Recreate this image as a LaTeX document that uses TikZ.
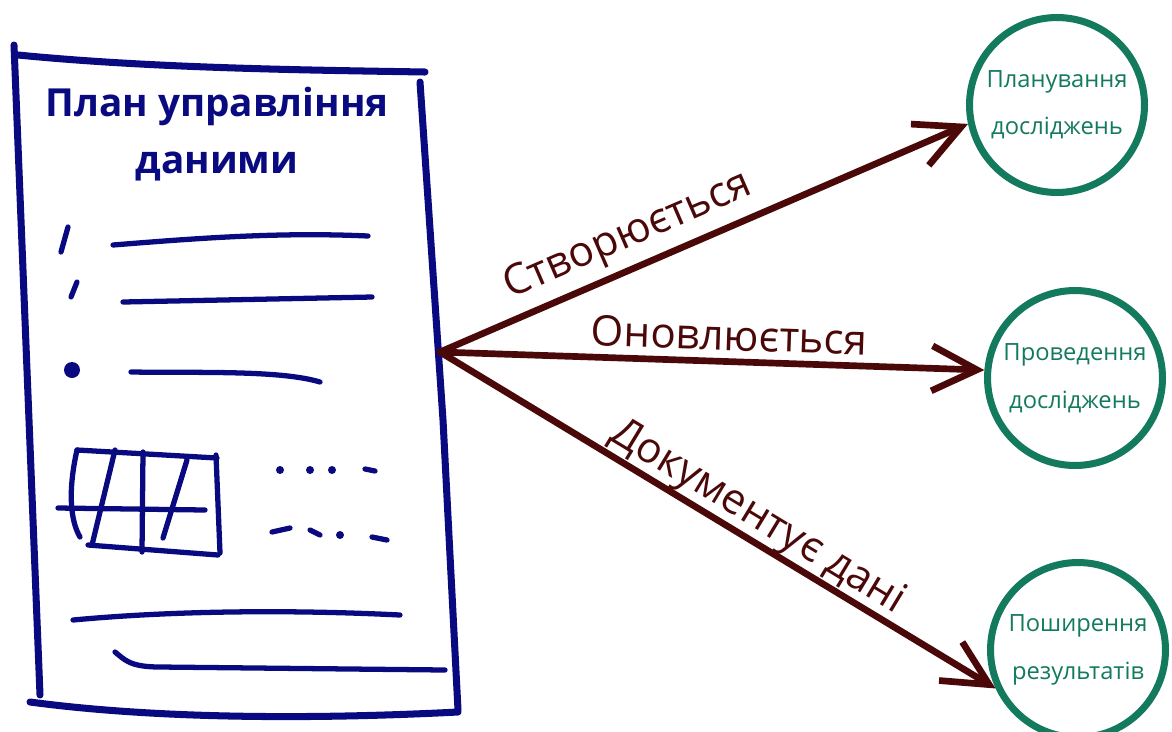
\documentclass[tikz,border=0pt]{standalone}
\usepackage{fontspec}
\setmainfont{Open Sans}
\usetikzlibrary{arrows.meta,positioning,calc}
\definecolor{Ink}{HTML}{0A0A80}
\definecolor{Maroon}{HTML}{4A0808}
\definecolor{Green}{HTML}{137A5E}

\begin{document}
\begin{tikzpicture}[x=0.02cm,y=-0.02cm,line cap=round,line join=round,
  pen/.style={Ink,line width=4pt},
  thin pen/.style={Ink,line width=3pt},
  stage/.style={circle,draw=Green,line width=4pt,minimum size=3.5cm,text=Green,align=center,font=\fontsize{13.5}{27}\selectfont},
  flow/.style={Maroon,line width=3.8pt,-{Straight Barb[length=9mm,width=9mm]}},
  flowlabel/.style={Maroon,sloped,font=\fontsize{24}{28}\selectfont}]
  \useasboundingbox (0,0) rectangle (1172,731);
  % plan sheet
  \draw[pen] (14,45) -- (40,695);
  \draw[pen] (18,55) .. controls (150,68) and (300,70) .. (425,72);
  \draw[pen] (420,82) -- (443,420) -- (458,710);
  \draw[pen] (30,702) .. controls (150,718) and (300,720) .. (458,712);
  \node[Ink,align=center,font=\bfseries\fontsize{22}{32}\selectfont] (title) at (217,134) {План управління\\даними};
  % list items
  \draw[thin pen] (68,227) -- (61,252);
  \draw[thin pen] (113,245) .. controls (200,238) and (280,232) .. (368,236);
  \draw[thin pen] (77,282) -- (71,297);
  \draw[thin pen] (123,302) -- (372,297);
  \fill[Ink] (72,370) circle (8);
  \draw[thin pen] (131,372) .. controls (200,373) and (280,370) .. (320,382);
  % table
  \draw[thin pen] (77,450) -- (217,458);
  \draw[thin pen] (77,450) .. controls (68,490) and (70,520) .. (80,537);
  \draw[thin pen] (88,545) -- (218,555);
  \draw[thin pen] (216,455) -- (220,553);
  \draw[thin pen] (58,508) -- (205,510);
  \draw[thin pen] (115,450) -- (92,545);
  \draw[thin pen] (143,452) -- (142,552);
  \draw[thin pen] (187,460) -- (163,538);
  % dotted lines
  \foreach \x in {280,310,332} \fill[Ink] (\x,470) circle (4);
  \draw[thin pen] (365,469) -- (375,471);
  \draw[thin pen] (272,532) -- (290,528);
  \draw[thin pen] (310,530) -- (320,535);
  \fill[Ink] (340,535) circle (4);
  \draw[thin pen] (372,537) -- (387,540);
  % text lines
  \draw[thin pen] (73,620) .. controls (180,610) and (300,610) .. (400,615);
  \draw[thin pen] (115,652) .. controls (125,660) and (130,667) .. (160,667) -- (445,670);
  % stages
  \coordinate (hub) at (440,352);
  \node[stage] (plan) at (1057,105) {Планування\\досліджень};
  \node[stage] (run) at (1075,378) {Проведення\\досліджень};
  \node[stage] (share) at (1078,650) {Поширення\\результатів};
  \draw[flow] (hub) -- node[flowlabel,pos=0.38,above=1pt] (create) {Створюється} (plan.192);
  \draw[flow] (hub) -- node[flowlabel,pos=0.53,above=1pt] (update) {Оновлюється} (run.175);
  \draw[flow] (hub) -- node[flowlabel,pos=0.55,above=-4pt] (describe) {Документує дані} (share.205);
\end{tikzpicture}
\end{document}
